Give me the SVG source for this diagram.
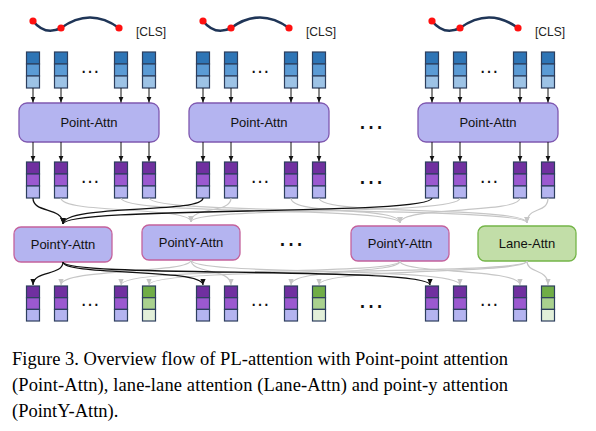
<svg xmlns="http://www.w3.org/2000/svg" xmlns:xlink="http://www.w3.org/1999/xlink" width="596" height="431" viewBox="0 0 596 431">
<style>
.blk rect{stroke:#2d3f5e;stroke-width:1.2}
.lbl{font-family:"Liberation Sans",Arial,sans-serif;font-size:13px;fill:#111;text-anchor:middle}
.cls{font-family:"Liberation Sans",Arial,sans-serif;font-size:12px;fill:#222}
.dots{font-family:"Liberation Sans",Arial,sans-serif;font-size:20px;fill:#111;text-anchor:middle}
.bdots{font-family:"Liberation Sans",Arial,sans-serif;font-size:27px;fill:#111;text-anchor:middle}
.pa{fill:#b4b4f0;stroke:#7f58b0;stroke-width:1.3}
.py{fill:#b4b4f0;stroke:#c4629c;stroke-width:1.3}
.la{fill:#c2dea8;stroke:#74b548;stroke-width:1.3}
.arr{stroke:#111;stroke-width:1;fill:none;marker-end:url(#ak)}
.ck{stroke:#111;stroke-width:1.3;fill:none;marker-end:url(#ak)}
.cg{stroke:#c6c6c6;stroke-width:1.2;fill:none;marker-end:url(#ag)}
.cap{font-family:"Liberation Serif","Times New Roman",serif;font-size:18.5px;fill:#000}
</style>
<defs>
<marker id="ak" viewBox="0 0 6 6" refX="6" refY="3" markerWidth="6" markerHeight="6" markerUnits="userSpaceOnUse" orient="auto"><path d="M0,0.4 L6,3 L0,5.6z" fill="#111"/></marker>
<marker id="ag" viewBox="0 0 6 6" refX="6" refY="3" markerWidth="6" markerHeight="6" markerUnits="userSpaceOnUse" orient="auto"><path d="M0,0.4 L6,3 L0,5.6z" fill="#c6c6c6"/></marker>
<g id="colB" class="blk"><rect width="13" height="12" fill="#2e75b6"/><rect y="12" width="13" height="12" fill="#5b9bd5"/><rect y="24" width="13" height="12" fill="#9dc3e6"/></g>
<g id="colP" class="blk"><rect width="13" height="12" fill="#7030a0"/><rect y="12" width="13" height="12" fill="#9b59d0"/><rect y="24" width="13" height="12" fill="#b4b4f0"/></g>
<g id="colPb" class="blk"><rect width="13" height="11.7" fill="#7030a0"/><rect y="11.7" width="13" height="11.7" fill="#9b59d0"/><rect y="23.4" width="13" height="11.6" fill="#b4b4f0"/></g>
<g id="colG" class="blk"><rect width="13" height="11.7" fill="#70ad47"/><rect y="11.7" width="13" height="11.7" fill="#a9d18e"/><rect y="23.4" width="13" height="11.6" fill="#e2efd9"/></g>
<g id="lane">
<path d="M33,21 Q45,36 61,28 Q90,7 119,28" fill="none" stroke="#1f3557" stroke-width="2.6" stroke-linecap="round"/>
<circle cx="33" cy="21" r="3.6" fill="#ff1010"/><circle cx="61" cy="28" r="3.6" fill="#ff1010"/><circle cx="119" cy="28" r="3.6" fill="#ff1010"/>
<text class="cls" x="136" y="36">[CLS]</text>
</g>
</defs>

<g id="lane-icons">
<use href="#lane"/>
<use href="#lane" x="170"/>
<use href="#lane" x="399"/>
</g>

<g id="input-tokens-1"><use href="#colB" x="26.5" y="52"/><use href="#colB" x="54.5" y="52"/><use href="#colB" x="114.5" y="52"/><use href="#colB" x="142.5" y="52"/><text class="dots" x="90" y="73">…</text></g>
<g id="input-tokens-2"><use href="#colB" x="196.5" y="52"/><use href="#colB" x="224.5" y="52"/><use href="#colB" x="284.5" y="52"/><use href="#colB" x="312.5" y="52"/><text class="dots" x="260" y="73">…</text></g>
<g id="input-tokens-3"><use href="#colB" x="425.5" y="52"/><use href="#colB" x="453.5" y="52"/><use href="#colB" x="513.5" y="52"/><use href="#colB" x="541.5" y="52"/><text class="dots" x="489" y="73">…</text></g>

<g id="point-attn-1"><rect class="pa" x="19" y="103" width="140" height="39" rx="8"/><text class="lbl" x="89" y="127">Point-Attn</text></g>
<g id="point-attn-2"><rect class="pa" x="189" y="103" width="140" height="39" rx="8"/><text class="lbl" x="259" y="127">Point-Attn</text></g>
<g id="point-attn-3"><rect class="pa" x="418" y="103" width="140" height="39" rx="8"/><text class="lbl" x="488" y="127">Point-Attn</text></g>
<text class="bdots" x="371" y="129">…</text>

<g id="point-tokens-1"><use href="#colP" x="26.5" y="162"/><use href="#colP" x="54.5" y="162"/><use href="#colP" x="114.5" y="162"/><use href="#colP" x="142.5" y="162"/><text class="dots" x="90" y="182.5">…</text></g>
<g id="point-tokens-2"><use href="#colP" x="196.5" y="162"/><use href="#colP" x="224.5" y="162"/><use href="#colP" x="284.5" y="162"/><use href="#colP" x="312.5" y="162"/><text class="dots" x="260" y="182.5">…</text></g>
<g id="point-tokens-3"><use href="#colP" x="425.5" y="162"/><use href="#colP" x="453.5" y="162"/><use href="#colP" x="513.5" y="162"/><use href="#colP" x="541.5" y="162"/><text class="dots" x="489" y="182.5">…</text></g>
<text class="bdots" x="371" y="184">…</text>

<g id="pointy-attn-1"><rect class="py" x="14" y="227" width="98" height="35" rx="7"/><text class="lbl" x="63" y="248.5">PointY-Attn</text></g>
<g id="pointy-attn-2"><rect class="py" x="142" y="225" width="98" height="35" rx="7"/><text class="lbl" x="191" y="246.5">PointY-Attn</text></g>
<g id="pointy-attn-3"><rect class="py" x="351" y="226" width="98" height="35" rx="7"/><text class="lbl" x="400" y="247.5">PointY-Attn</text></g>
<g id="lane-attn"><rect class="la" x="478" y="226" width="98" height="35" rx="7"/><text class="lbl" x="527" y="247.5">Lane-Attn</text></g>
<text class="bdots" x="291" y="246">…</text>

<g id="out-tokens-1"><use href="#colPb" x="26.5" y="286"/><use href="#colPb" x="54.5" y="286"/><use href="#colPb" x="114.5" y="286"/><use href="#colG" x="142.5" y="286"/><text class="dots" x="90" y="305.5">…</text></g>
<g id="out-tokens-2"><use href="#colPb" x="196.5" y="286"/><use href="#colPb" x="224.5" y="286"/><use href="#colPb" x="284.5" y="286"/><use href="#colG" x="312.5" y="286"/><text class="dots" x="260" y="305.5">…</text></g>
<g id="out-tokens-3"><use href="#colPb" x="425.5" y="286"/><use href="#colPb" x="453.5" y="286"/><use href="#colPb" x="513.5" y="286"/><use href="#colG" x="541.5" y="286"/><text class="dots" x="489" y="305.5">…</text></g>
<text class="bdots" x="371" y="308">…</text>

<g id="connectors">
<g id="straight-arrows">
<path class="arr" d="M33,88V102.5"/><path class="arr" d="M61,88V102.5"/><path class="arr" d="M121,88V102.5"/><path class="arr" d="M149,88V102.5"/>
<path class="arr" d="M203,88V102.5"/><path class="arr" d="M231,88V102.5"/><path class="arr" d="M291,88V102.5"/><path class="arr" d="M319,88V102.5"/>
<path class="arr" d="M432,88V102.5"/><path class="arr" d="M460,88V102.5"/><path class="arr" d="M520,88V102.5"/><path class="arr" d="M548,88V102.5"/>
<path class="arr" d="M33,142V161.5"/><path class="arr" d="M61,142V161.5"/><path class="arr" d="M121,142V161.5"/><path class="arr" d="M149,142V161.5"/>
<path class="arr" d="M203,142V161.5"/><path class="arr" d="M231,142V161.5"/><path class="arr" d="M291,142V161.5"/><path class="arr" d="M319,142V161.5"/>
<path class="arr" d="M432,142V161.5"/><path class="arr" d="M460,142V161.5"/><path class="arr" d="M520,142V161.5"/><path class="arr" d="M548,142V161.5"/>
</g>
<g id="gray-links">
<path class="cg" d="M61,198 C61,214 191,206 191,222"/>
<path class="cg" d="M231,198 C231,214 191,206 191,222"/>
<path class="cg" d="M460,198 C460,216 191,206 191,222"/>
<path class="cg" d="M121,198 C121,216 400,206 400,223"/>
<path class="cg" d="M291,198 C291,216 400,206 400,223"/>
<path class="cg" d="M520,198 C520,214 400,206 400,223"/>
<path class="cg" d="M149,198 C149,216 527,206 527,223"/>
<path class="cg" d="M319,198 C319,216 527,206 527,223"/>
<path class="cg" d="M548,198 C548,214 527,206 527,223"/>
<path class="cg" d="M191,260 C191,274 61,268 61,285"/>
<path class="cg" d="M191,260 C191,274 231,268 231,285"/>
<path class="cg" d="M191,260 C191,276 460,266 460,285"/>
<path class="cg" d="M400,261 C400,276 121,266 121,285"/>
<path class="cg" d="M400,261 C400,274 291,268 291,285"/>
<path class="cg" d="M400,261 C400,274 520,268 520,285"/>
<path class="cg" d="M527,261 C527,276 149,266 149,285"/>
<path class="cg" d="M527,261 C527,274 319,268 319,285"/>
<path class="cg" d="M527,261 C527,274 548,268 548,285"/>
</g>
<g id="black-links">
<path class="ck" d="M33,198 C33,214 63,206 63,224"/>
<path class="ck" d="M203,198 C203,214 63,204 63,224"/>
<path class="ck" d="M432,198 C432,216 63,206 63,224"/>
<path class="ck" d="M63,262 C63,276 33,270 33,285"/>
<path class="ck" d="M63,262 C63,276 203,268 203,285"/>
<path class="ck" d="M63,262 C63,278 430,266 430,285"/>
</g>
</g>

<g id="caption">
<text class="cap" x="12" y="365" textLength="496" lengthAdjust="spacing">Figure 3. Overview flow of PL-attention with Point-point attention</text>
<text class="cap" x="12" y="391" textLength="496" lengthAdjust="spacing">(Point-Attn), lane-lane attention (Lane-Attn) and point-y attention</text>
<text class="cap" x="12" y="417">(PointY-Attn).</text>
</g>
</svg>
